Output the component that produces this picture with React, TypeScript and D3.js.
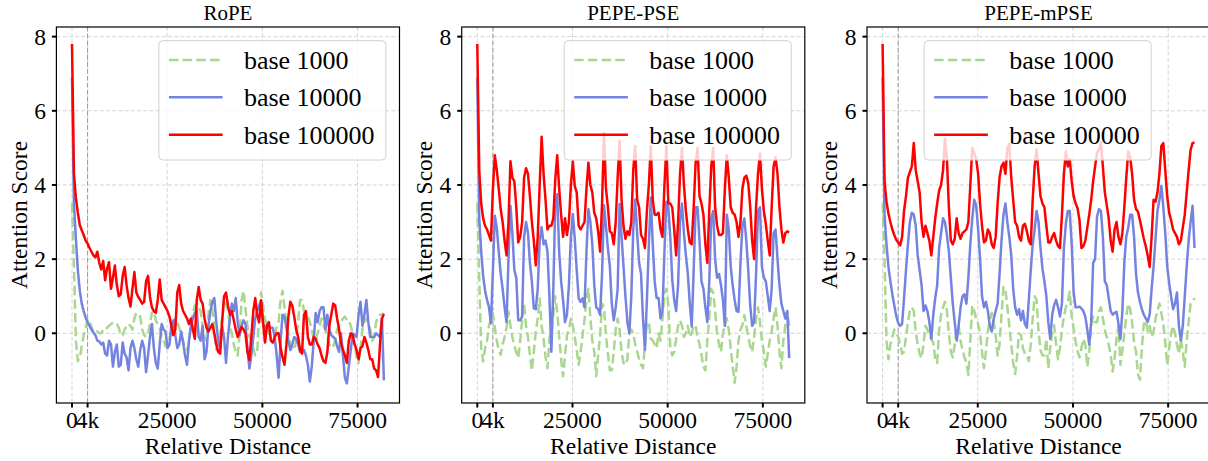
import React from "react";
import * as d3 from "d3";

// ---------------- data ----------------
const SAMPLE_STEP = 512; // relative distance between consecutive samples
const X_TICKS = [0, 4096, 25000, 50000, 75000];
const X_TICK_LABELS = ["0", "4k", "25000", "50000", "75000"];
const Y_TICKS = [0, 2, 4, 6, 8];
const WINDOW_MARK = 4096;
const SERIES_LABELS = ["base 1000", "base 10000", "base 100000"];
const PANEL_TITLES = ["RoPE", "PEPE-PSE", "PEPE-mPSE"];

const ropeBase1000 = [
  3.5, 1.8, -0.2, -0.75, -0.65, -0.35, -0.05, 0.15, 0.38, 0.35,
  0.17, 0.05, 0.0, 0.05, 0.0, 0.0, 0.1, 0.08, 0.15, 0.2,
  0.25, 0.28, 0.3, 0.25, 0.15, -0.05, -0.05, 0.1, 0.2, 0.25,
  0.2, 0.1, 0.4, 0.55, 0.5, 0.45, 0.1, -0.05, -0.1, 0.0,
  0.25, 0.55, 0.6, 0.35, 0.25, 0.15, -0.1, -0.2, -0.35, -0.3,
  -0.15, 0.15, 0.3, 0.4, 0.3, 0.15, -0.05, -0.2, -0.4, -0.45,
  -0.25, 0.2, 0.55, 0.75, 0.8, 0.7, 0.6, 0.2, -0.1, -0.2,
  0.5, 0.9, 0.65, 0.1, -0.45, -0.2, -0.05, 0.4, 0.9, 0.75,
  0.65, 0.2, 0.0, -0.3, -0.5, -0.6, 0.0, 0.9, 1.15, 0.65,
  0.2, -0.1, -0.2, -0.4, -0.6, -0.5, 0.5, 1.1, 0.75, 0.4,
  0.2, 0.0, -0.1, -0.1, -0.1, 0.2, 0.3, 0.9, 1.15, 0.7,
  0.3, 0.0, -0.3, -0.35, -0.45, -0.2, 0.3, 0.9, 0.9, 0.6,
  0.55, 0.45, 0.3, 0.1, -0.15, -0.2, 0.0, 0.2, 0.4, 0.2,
  0.1, -0.1, -0.3, -0.4, -0.35, -0.2, 0.1, 0.2, 0.3, 0.4,
  0.45, 0.35, 0.35, 0.2, 0.0, -0.3, -0.65, -0.8, -0.4, 0.1,
  0.3, 0.4, 0.3, 0.1, -0.2, -0.1, 0.3, 0.45, 0.5, 0.5,
  0.55,
];
const ropeBase10000 = [
  6.9, 3.5, 2.55, 1.7, 1.15, 0.8, 0.6, 0.42, 0.3, 0.2,
  0.1, 0.02, -0.05, -0.2, -0.22, -0.3, -0.25, -0.55, -0.6, -0.2,
  -0.3, -0.9, -0.5, -0.3, -0.9, -0.85, -0.25, -0.55, -0.65, -1.0,
  -0.4, -0.2, -0.4, -0.7, -0.9, -0.45, -0.2, -0.4, -1.05, -0.6,
  -0.1, 0.25, -0.4, -0.8, -0.95, -0.3, 0.25, 0.1, 0.05, -0.4,
  -0.3, 0.2, 0.35, -0.05, -0.4, -0.3, 0.05, -0.25, -0.6, -0.85,
  -0.2, 0.2, 0.4, 0.55, 0.62, -0.1, -0.2, 0.2, -0.7, -0.5,
  0.2, 0.6, 0.85, 0.95, 0.3, -0.2, -0.4, 0.2, -0.1, -0.8,
  -0.1, 0.4, 0.8, 0.6, 0.95, 0.3, -0.05, 0.2, 0.35, 0.25,
  -0.4, -0.95, -0.6, -0.1, 0.4, 0.6, 0.75, 0.88, 0.25, 0.15,
  0.2, 0.2, 0.15, 0.15, -0.1, -0.6, -1.2, -0.2, 0.5, 0.45,
  0.15, -0.2, -0.45, -0.3, -0.1, -0.15, -0.3, -0.5, -0.5, -0.45,
  -0.6, -0.85, -1.3, -0.9, -0.2, 0.55, 0.3, 0.6, 0.7, 0.7,
  0.1, 0.5, 0.1, -0.05, -0.1, -0.15, -0.35, -0.5, 0.0, -0.6,
  -1.2, -1.35, -0.9, -0.45, 0.0, -0.05, -0.1, 0.5, 0.85, 0.2,
  0.5, 0.9, 0.3, -0.1, -0.1, -0.1, 0.0, -0.05, -0.1, 0.4,
  -1.27,
];
const ropeBase100000 = [
  7.8, 4.3, 3.65, 3.25, 2.92, 2.78, 2.65, 2.5, 2.42, 2.3,
  2.2, 2.1, 2.05, 2.2, 1.9, 1.72, 1.95, 1.43, 1.75, 1.92,
  1.2, 1.5, 1.83, 1.3, 1.0, 1.05, 1.55, 1.79, 1.3, 0.95,
  0.72, 1.2, 1.65, 1.1, 0.98, 0.9, 0.8, 0.85, 1.4, 1.55,
  0.98, 0.7, 0.6, 0.55, 0.9, 1.45, 0.9, 0.8, 0.7, 0.6,
  0.45, 0.2, -0.05, 0.1, 1.1, 1.3, 0.8, 0.6, 0.5, 0.4,
  0.25, 0.4, 0.1, -0.15, 0.9, 1.25, 0.9, 0.8, 0.4, 0.15,
  0.05, 0.15, 0.25, 0.0, -0.3, -0.5, -0.55, 0.3, 1.0, 1.1,
  0.75, 0.5, 0.6, 0.35, 0.1, -0.1, 0.05, 0.17, 0.1, 0.0,
  -0.5, -0.72, -0.1, 0.6, 0.95, 0.5, 0.3, 0.89, 0.3, -0.25,
  0.2, 0.3, -0.2, -0.25, -0.1, 0.0, 0.0, -0.4, -0.65, -0.85,
  -0.3, 0.45, 0.85, 0.75, 0.45, 0.1, -0.1, -0.45, -0.55, 0.5,
  0.6, -0.1, -0.3, -0.3, -0.1, -0.15, -0.3, -0.4, -0.6, -0.75,
  -0.8, -0.5, 0.2, 0.5, 0.8, 0.75, 0.4, 0.1, -0.25, -0.45,
  -0.6, -0.8, -0.2, 0.0, -0.05, -0.3, -0.45, -0.7, -0.4, -0.35,
  -0.1, -0.25, -0.45, -0.7, -0.7, -0.95, -1.0, -1.18, -0.3, 0.4,
  0.52,
];

const pseBase1000 = [
  3.5, 1.5, -0.4, -0.76, -0.4, -0.2, 0.2, 0.4, 0.54, 0.15,
  -0.2, -0.45, -0.58, -0.3, -0.1, 0.15, 0.58, 0.2, -0.1, -0.35,
  -0.5, -0.67, -0.2, 0.35, 0.8, 0.2, -0.1, -0.6, -1.0, -0.5,
  0.05, 0.4, 0.94, 0.2, -0.15, -0.65, -0.94, -0.15, 0.15, 0.5,
  1.0, 0.6, -0.1, -0.7, -1.16, -0.6, -0.05, 0.1, 0.4, 0.2,
  -0.1, -0.45, -0.85, -0.5, -0.05, 0.35, 0.95, 1.2, 0.4, -0.2,
  -0.5, -1.16, -0.6, -0.05, 0.8, 0.7, -0.05, -0.55, -1.0, -1.0,
  -0.5, 0.1, 0.4, 0.1, -0.5, -0.8, -0.85, -0.7, 0.0, 0.1,
  0.0, -0.3, -0.5, -0.7, -0.85, -0.94, -0.3, 0.3, 0.3, -0.15,
  -0.2, -0.3, -0.4, 0.0, -0.2, 0.4, 1.1, 1.2, 0.76, -0.4,
  -0.6, -0.5, -0.15, 0.2, 0.35, 0.2, -0.1, 0.0, 0.2, -0.1,
  0.0, 0.22, 0.2, -0.1, -0.3, -0.58, -0.9, -1.0, -0.2, 0.4,
  1.2, 1.1, 0.6, 0.0, -0.3, -0.5, 0.0, 0.22, 0.4, 0.1,
  -0.4, -0.9, -1.34, -0.9, -0.2, 0.1, 0.22, 0.49, 0.2, -0.1,
  -0.35, -0.5, -0.1, 0.4, 0.7, 0.3, -0.2, -0.5, -0.9, -0.55,
  -0.2, 0.05, 0.4, 0.7, 0.2, -0.5, -0.94, -0.2, 0.22, 0.58,
  0.2,
];
const pseBase10000 = [
  6.9, 3.1, 2.2, 1.55, 1.15, 0.9, 0.7, 0.27, 1.7, 3.17,
  2.85, 2.2, 1.6, 1.2, 0.7, 0.3, 2.0, 3.44, 2.7, 1.7,
  1.5, 0.35, 0.35, 0.45, 2.6, 3.0, 2.7, 1.9, 1.4, 0.67,
  0.65, 1.2, 2.5, 2.86, 2.4, 2.5, 2.2, 1.0, -0.5, 1.2,
  3.5, 3.75, 2.2, 1.4, 0.9, 0.3, 0.5, 1.3, 2.6, 3.22,
  2.55, 1.7, 0.94, 0.85, 0.94, 0.7, 2.2, 3.35, 3.0, 2.4,
  1.3, 0.7, 0.65, 0.5, 1.6, 3.45, 2.9, 2.3, 1.8, 0.8,
  0.35, 0.7, 1.2, 3.49, 2.6, 1.8, 1.0, 0.3, 0.0, 1.0,
  2.8, 3.6, 2.7, 1.9, 1.6, 0.4, -0.45, 0.9, 2.4, 3.66,
  2.4, 1.4, 0.95, 0.95, 0.4, 0.6, 2.2, 3.55, 3.4, 2.6,
  1.45, 0.9, 0.6, 1.3, 3.0, 3.5, 2.7, 2.1, 1.6, 0.8,
  0.18, 1.7, 3.4, 3.4, 2.5, 1.4, 1.2, 0.7, 0.3, 1.4,
  3.1, 3.3, 2.0, 1.5, 1.6, 1.3, 0.9, 0.2, 3.2, 2.8,
  1.8, 1.3, 0.9, 0.6, 0.58, 1.9, 2.9, 3.1, 2.5, 1.7,
  0.75, 0.2, 0.3, 1.6, 3.3, 3.4, 1.8, 1.5, 1.4, 1.0,
  0.6, 1.2, 2.7, 2.8, 2.0, 1.3, 0.8, 0.6, 0.4, 0.6,
  -0.67,
];
const pseBase100000 = [
  7.8, 4.4, 3.5, 3.1, 2.9, 2.8, 2.65, 2.5, 3.9, 4.8,
  4.4, 3.9, 3.35, 3.0, 2.5, 2.1, 3.0, 4.64, 4.2, 4.1,
  3.4, 2.45, 2.6, 3.0, 4.2, 4.45, 4.3, 3.7, 3.0, 2.5,
  1.83, 2.6, 4.0, 5.3, 4.3, 3.6, 2.8, 2.9, 2.9, 3.1,
  4.15, 4.8, 3.9, 3.2, 2.6, 3.1, 2.65, 3.0, 4.0, 4.64,
  3.97, 3.8, 2.9, 2.8, 2.9, 3.0, 3.9, 4.6, 4.0, 3.8,
  3.25, 3.1, 2.75, 2.2, 3.5, 5.4, 3.9, 3.4, 2.75, 2.7,
  2.4, 3.0, 4.2, 5.2, 3.6, 2.9, 2.55, 2.75, 2.65, 3.0,
  4.4, 5.05, 3.6, 3.4, 2.65, 2.55, 2.3, 3.3, 4.0, 5.05,
  3.6, 3.2, 3.2, 3.25, 2.8, 2.6, 4.0, 5.05, 3.5, 3.5,
  3.4, 2.8, 2.1, 3.0, 4.3, 5.0, 4.0, 3.3, 2.8, 2.45,
  2.4, 3.4, 4.6, 5.0, 3.7, 3.5, 3.2, 2.4, 1.9, 3.3,
  4.5, 5.0, 3.4, 2.9, 2.65, 2.65, 2.7, 3.9, 4.8, 4.2,
  3.4, 3.25, 3.2, 3.0, 2.6, 3.0, 3.9, 4.2, 4.25, 4.05,
  3.4, 2.5, 2.0, 3.4, 4.3, 4.85, 3.9, 3.3, 2.95, 2.5,
  2.1, 3.4, 4.5, 4.74, 4.3, 3.4, 2.8, 2.45, 2.7, 2.75,
  2.72,
];

const mpseBase1000 = [
  3.5, 2.0, -0.2, -0.7, -0.3, -0.1, 0.1, 0.0, -0.1, -0.3,
  -0.55, -0.5, -0.1, 0.3, 0.6, 0.7, 0.6, 0.05, -0.3, -0.55,
  -0.67, -0.3, 0.2, 0.1, -0.05, -0.15, -0.25, -0.7, -0.8, 0.1,
  0.5, 0.7, 0.85, 0.6, 0.0, -0.5, -0.65, -0.3, 0.1, 0.2,
  -0.2, -0.45, -0.65, -0.8, -1.12, -0.2, 0.75, 0.6, 0.4, 0.25,
  0.0, -0.5, -0.94, -0.5, 0.05, 0.35, 0.55, 0.3, -0.05, -0.6,
  -0.3, 0.5, 1.25, 1.2, 0.7, 0.2, -0.3, -0.8, -1.1, -0.6,
  0.0, -0.05, -0.4, -0.55, -0.6, -0.75, -0.3, 0.4, 1.0, 0.9,
  0.05, -0.45, -0.6, -0.6, -0.15, -0.94, -0.4, 0.04, 0.22, -0.3,
  -0.7, -0.4, 0.1, 0.45, 0.7, 0.85, 1.12, 0.45, 0.13, -0.22,
  -0.49, -0.65, -0.4, -0.15, -0.3, -0.9, -0.5, 0.2, 0.45, 0.3,
  0.3, 0.6, 0.7, 0.4, 0.1, -0.1, -0.31, -0.58, -1.03, -0.67,
  -0.15, 0.2, -0.85, -0.45, 0.0, 0.45, 0.8, 0.65, 0.3, -0.25,
  -0.5, -1.1, -1.25, -0.4, 0.25, 0.35, 0.05, 0.2, -0.1, 0.04,
  0.4, 0.6, 0.8, 0.55, 0.25, -0.25, -0.85, -0.4, 0.0, 0.2,
  0.0, -0.3, -0.55, -0.15, -0.5, -0.9, -0.2, 0.3, 0.8, 0.85,
  0.95,
];
const mpseBase10000 = [
  6.9, 3.2, 2.4, 1.8, 1.4, 1.05, 0.75, 0.47, 0.28, 0.2,
  0.25, 0.95, 1.7, 2.4, 3.0, 3.25, 3.2, 2.9, 2.1, 1.7,
  1.3, 0.6, 0.75, 0.6, 0.3, -0.15, 0.5, 0.95, 1.3, 2.3,
  2.7, 3.1, 3.0, 2.65, 2.2, 1.5, 0.8, 0.3, -0.2, 0.2,
  0.7, 1.0, 1.05, 0.8, 1.5, 2.4, 3.1, 3.6, 3.45, 2.8,
  2.0, 1.0, 0.7, 0.85, 0.6, 0.2, 0.05, 0.4, 0.6, 0.8,
  1.6, 2.5, 3.2, 3.5, 3.0, 2.6, 2.1, 1.2, 0.7, 0.5,
  0.65, 0.35, 0.6, 0.25, 0.15, 0.9, 1.7, 2.4, 2.8, 3.3,
  3.0, 2.3, 1.75, 1.4, 1.0, 0.3, -0.15, 0.5, 0.76, 0.9,
  0.7, 0.45, 0.8, 2.3, 2.95, 3.3, 3.3, 2.4, 1.1, 0.7,
  0.7, 0.72, 0.67, 0.6, 0.45, 0.1, -0.3, 0.3, 1.9, 2.0,
  3.15, 3.35, 3.3, 2.6, 1.4, 1.3, 0.95, 0.6, 0.5, 0.55,
  0.58, 0.25, -0.15, 0.6, 1.9, 2.6, 2.85, 3.2, 3.2, 2.6,
  1.6, 1.1, 0.85, 0.65, 0.5, 0.4, 0.31, 0.5, 1.2, 1.8,
  2.55, 3.3, 3.6, 3.97, 3.4, 2.7, 1.8, 1.35, 1.0, 0.65,
  0.8, 1.1, 0.2, -0.2, 0.2, 1.0, 1.8, 2.5, 3.0, 3.44,
  2.3,
];
const mpseBase100000 = [
  7.8, 4.1, 3.55, 3.23, 3.0, 2.8, 2.65, 2.52, 2.45, 2.37,
  2.6, 3.3, 3.7, 4.2, 4.35, 4.5, 5.13, 4.4, 4.1, 3.8,
  3.0, 2.6, 2.9, 2.7, 2.5, 2.1, 2.6, 3.1, 3.5, 3.85,
  4.0, 4.4, 5.25, 4.7, 3.4, 2.5, 2.4, 2.55, 3.1, 2.7,
  2.55, 2.7, 2.75, 2.8, 3.0, 4.0, 5.0, 4.85, 4.7, 4.3,
  3.5, 2.9, 2.45, 2.5, 2.8, 2.7, 2.4, 2.3, 2.6, 3.5,
  4.2, 4.5, 4.6, 4.3, 5.0, 5.1, 4.2, 3.6, 3.0, 2.9,
  2.6, 2.5, 2.9, 2.95, 2.75, 2.5, 2.4, 3.6, 4.5, 4.96,
  4.3, 3.7, 3.5, 3.4, 2.9, 2.45, 2.45, 2.6, 2.7, 2.5,
  2.35, 2.3, 3.2, 4.3, 4.9, 4.5, 4.7, 4.1, 3.7, 3.5,
  3.38, 3.05, 2.3, 2.35, 2.5, 2.85, 3.2, 3.6, 4.1, 4.5,
  4.87, 4.95, 5.15, 4.5, 3.8, 3.45, 3.1, 2.5, 2.2, 2.8,
  3.0, 2.6, 2.4, 2.7, 3.4, 4.2, 4.9, 4.75, 4.3, 3.6,
  3.35, 3.28, 3.05, 2.8, 2.55, 2.35, 2.1, 1.79, 2.6, 3.6,
  3.55, 3.8, 4.3, 5.05, 5.13, 4.4, 3.7, 3.25, 3.05, 2.8,
  2.7, 2.6, 2.4, 2.5, 2.85, 3.2, 3.8, 4.4, 4.95, 5.13,
  5.15,
];

const PANEL_SERIES = [
  [ropeBase1000, ropeBase10000, ropeBase100000],
  [pseBase1000, pseBase10000, pseBase100000],
  [mpseBase1000, mpseBase10000, mpseBase100000],
];

// ---------------- layout / style ----------------
const W = 1208;
const H = 461;
const PANEL_LEFTS = [56.4, 461.7, 867.0];
const PANEL_W = 343.1;
const TOP = 27;
const BOTTOM = 403;
const X_DOMAIN = [-4096, 86016];
const Y_DOMAIN = [-1.88, 8.26];
const LEGEND_POS = ["right", "right", "center"];
const COLORS = ["#a9d78f", "#7583e0", "#ff0000"];
const FONT = "'Liberation Serif', 'Times New Roman', Times, serif";
const LINE_W = [2.5, 2.5, 2.5];
const GREEN_DASH = "9.5,4.2";

const LEG_W = 227;
const LEG_H = 119.3;

function Panel({ idx }: { idx: number }) {
  const left = PANEL_LEFTS[idx];
  const right = left + PANEL_W;
  const x = d3.scaleLinear().domain(X_DOMAIN).range([left, right]);
  const y = d3.scaleLinear().domain(Y_DOMAIN).range([BOTTOM, TOP]);
  const series = PANEL_SERIES[idx];
  const line = d3
    .line<number>()
    .x((_, i) => x(i * SAMPLE_STEP))
    .y((d) => y(d));

  const legLeft =
    LEGEND_POS[idx] === "right"
      ? right - 13.6 - LEG_W
      : (left + right) / 2 - LEG_W / 2 - 0.9;
  const legTop = TOP + 13.7;
  const cx = (left + right) / 2;
  const cy = (TOP + BOTTOM) / 2;

  return (
    <g>
      {Y_TICKS.map((t) => (
        <line
          key={"gy" + t}
          x1={left}
          x2={right}
          y1={y(t)}
          y2={y(t)}
          stroke="#d4d4d4"
          strokeWidth={1}
          strokeDasharray="4,2.2"
        />
      ))}
      {X_TICKS.map((t) => (
        <line
          key={"gx" + t}
          x1={x(t)}
          x2={x(t)}
          y1={TOP}
          y2={BOTTOM}
          stroke="#d4d4d4"
          strokeWidth={1}
          strokeDasharray="4,2.2"
        />
      ))}
      <line
        x1={x(WINDOW_MARK)}
        x2={x(WINDOW_MARK)}
        y1={TOP}
        y2={BOTTOM}
        stroke="#9a9a9a"
        strokeWidth={1}
        strokeDasharray="4.5,2.5"
      />
      {series.map((s, k) => (
        <path
          key={"s" + k}
          d={line(s) || ""}
          fill="none"
          stroke={COLORS[k]}
          strokeWidth={LINE_W[k]}
          strokeDasharray={k === 0 ? GREEN_DASH : undefined}
          strokeLinejoin="round"
        />
      ))}
      <rect
        x={left}
        y={TOP}
        width={PANEL_W}
        height={BOTTOM - TOP}
        fill="none"
        stroke="#000"
        strokeWidth={1.2}
      />
      {Y_TICKS.map((t) => (
        <g key={"yt" + t}>
          <line x1={left - 4.5} x2={left} y1={y(t)} y2={y(t)} stroke="#000" strokeWidth={2} />
          <text
            x={left - 10.5}
            y={y(t) + 8}
            textAnchor="end"
            fontFamily={FONT}
            fontSize={23.5}
            fill="#000"
          >
            {t}
          </text>
        </g>
      ))}
      {X_TICKS.map((t, i) => (
        <g key={"xt" + t}>
          <line x1={x(t)} x2={x(t)} y1={BOTTOM} y2={BOTTOM + 4.5} stroke="#000" strokeWidth={2} />
          <text
            x={x(t)}
            y={428}
            textAnchor="middle"
            fontFamily={FONT}
            fontSize={23.5}
            fill="#000"
          >
            {X_TICK_LABELS[i]}
          </text>
        </g>
      ))}
      <text x={cx} y={20} textAnchor="middle" fontFamily={FONT} fontSize={21} fill="#000">
        {PANEL_TITLES[idx]}
      </text>
      <text x={cx} y={454} textAnchor="middle" fontFamily={FONT} fontSize={23.5} fill="#000">
        Relative Distance
      </text>
      <text
        transform={`translate(${left - 29.7},${cy}) rotate(-90)`}
        textAnchor="middle"
        fontFamily={FONT}
        fontSize={23.5}
        fill="#000"
      >
        Attention Score
      </text>
      <g>
        <rect
          x={legLeft}
          y={legTop}
          width={LEG_W}
          height={LEG_H}
          rx={4}
          ry={4}
          fill="#fff"
          fillOpacity={0.8}
          stroke="#d0d0d0"
          strokeWidth={1}
        />
        {SERIES_LABELS.map((lab, k) => {
          const ry = legTop + 19.3 + k * 37.35;
          return (
            <g key={lab}>
              <line
                x1={legLeft + 10}
                x2={legLeft + 63.7}
                y1={ry}
                y2={ry}
                stroke={COLORS[k]}
                strokeWidth={LINE_W[k]}
                strokeDasharray={k === 0 ? GREEN_DASH : undefined}
              />
              <text x={legLeft + 85} y={ry + 9} fontFamily={FONT} fontSize={26} fill="#000">
                {lab}
              </text>
            </g>
          );
        })}
      </g>
    </g>
  );
}

export default function App() {
  return (
    <div style={{ position: "absolute", left: 0, top: 0, width: W, height: H }}>
      <svg width={W} height={H} viewBox={`0 0 ${W} ${H}`} style={{ display: "block", background: "#fff" }}>
        <rect x={0} y={0} width={W} height={H} fill="#fff" />
        {PANEL_TITLES.map((_, i) => (
          <Panel key={i} idx={i} />
        ))}
      </svg>
    </div>
  );
}
